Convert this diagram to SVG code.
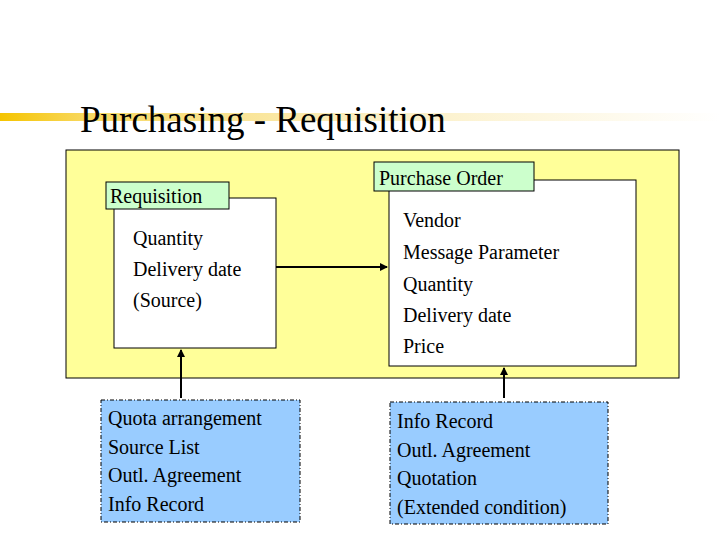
<svg xmlns="http://www.w3.org/2000/svg" width="720" height="540" viewBox="0 0 720 540">
<defs>
<linearGradient id="bar" x1="0" x2="1" y1="0" y2="0">
<stop offset="0" stop-color="#f5c400"/><stop offset="0.12" stop-color="#f8d860"/><stop offset="0.5" stop-color="#fbeec0"/><stop offset="1" stop-color="#ffffff"/>
</linearGradient>
<marker id="ah" markerWidth="8" markerHeight="8" refX="7" refY="4" orient="auto" markerUnits="userSpaceOnUse"><path d="M0,0 L8,4 L0,8 z" fill="#000"/></marker>
<style>
text{font-family:"Liberation Serif","Times New Roman",serif;fill:#000}
.t{font-size:20px}
.lbl{fill:#ccffcc;stroke:#000;stroke-width:1}
.wb{fill:#fff;stroke:#000;stroke-width:1}
.bb{fill:#99ccff;stroke:#000;stroke-width:1;stroke-dasharray:4 2 1 2}
.c{stroke:#000;stroke-width:2;fill:none}
</style>
</defs>
<rect x="0" y="113" width="720" height="8" fill="url(#bar)"/>
<text x="80" y="132" font-size="37">Purchasing - Requisition</text>
<rect x="66" y="150" width="613" height="228" fill="#ffff99" stroke="#000"/>
<g id="requisition">
<rect class="wb" x="114" y="198" width="162" height="150"/>
<rect class="lbl" x="106" y="182" width="123" height="27"/>
<text class="t" x="110" y="203">Requisition</text>
<text class="t" x="133" y="245">Quantity</text>
<text class="t" x="133" y="276">Delivery date</text>
<text class="t" x="133" y="307">(Source)</text>
</g>
<g id="po">
<rect class="wb" x="389" y="180" width="247" height="186"/>
<rect class="lbl" x="374" y="162" width="160" height="29"/>
<text class="t" x="379" y="185">Purchase Order</text>
<text class="t" x="403" y="227">Vendor</text>
<text class="t" x="403" y="259">Message Parameter</text>
<text class="t" x="403" y="291">Quantity</text>
<text class="t" x="403" y="322">Delivery date</text>
<text class="t" x="403" y="353">Price</text>
</g>
<g id="src1">
<rect class="bb" x="101" y="400" width="199" height="122"/>
<text class="t" x="108" y="425">Quota arrangement</text>
<text class="t" x="108" y="454">Source List</text>
<text class="t" x="108" y="482">Outl. Agreement</text>
<text class="t" x="108" y="511">Info Record</text>
</g>
<g id="src2">
<rect class="bb" x="390" y="402" width="218" height="122"/>
<text class="t" x="397" y="428">Info Record</text>
<text class="t" x="397" y="457">Outl. Agreement</text>
<text class="t" x="397" y="485">Quotation</text>
<text class="t" x="397" y="514">(Extended condition)</text>
</g>
<g id="connectors">
<line class="c" x1="276" y1="267" x2="387" y2="267" marker-end="url(#ah)"/>
<line class="c" x1="181" y1="398" x2="181" y2="350" marker-end="url(#ah)"/>
<line class="c" x1="504" y1="398" x2="504" y2="368" marker-end="url(#ah)"/>
</g>
</svg>
